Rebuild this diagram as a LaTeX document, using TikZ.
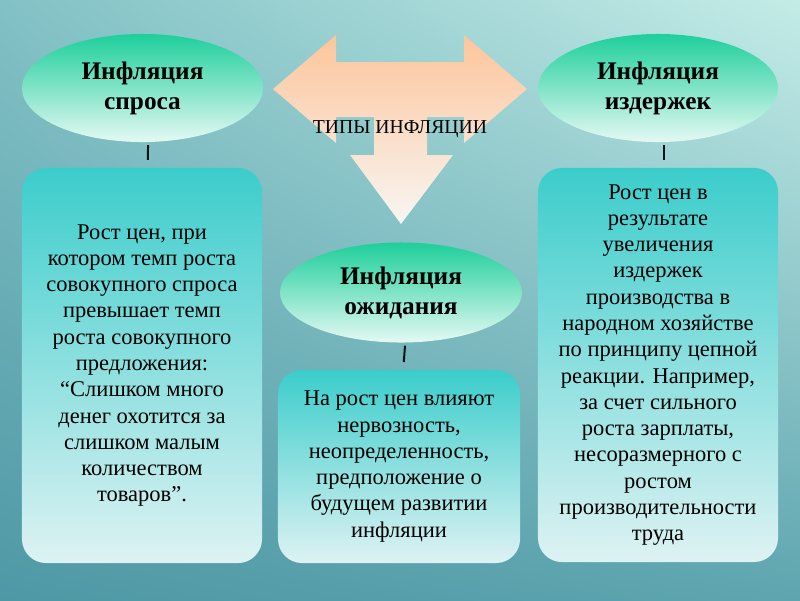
\documentclass[tikz,border=0pt]{standalone}
\usepackage{fontspec}
\setmainfont{Liberation Serif}
\usepackage{tikz}
\usetikzlibrary{shapes.geometric,shadings}
\usepackage{xcolor}

\definecolor{fundoTL}{HTML}{82C1C5}
\definecolor{fundoTR}{HTML}{C4ECE7}
\definecolor{fundoBL}{HTML}{4E98A5}
\definecolor{fundoBR}{HTML}{5EA5AF}
\definecolor{elipseA}{HTML}{1ECF9B}
\definecolor{elipseB}{HTML}{E4F9F3}
\definecolor{caixaA}{HTML}{3BCDCB}
\definecolor{caixaB}{HTML}{DEF2F3}
\definecolor{setaA}{HTML}{FDC59B}
\definecolor{setaB}{HTML}{F7F6F2}

\begin{document}
\begin{tikzpicture}[x=0.025cm, y=-0.025cm,
  titulo/.style={ellipse, inner sep=0pt, top color=elipseA, bottom color=elipseB,
    align=center, font=\fontsize{18}{21.3}\selectfont\bfseries},
  caixa/.style={rectangle, rounded corners=0.6cm, inner sep=0pt, top color=caixaA,
    bottom color=caixaB, minimum width=6cm, align=center,
    font=\fontsize{16}{18.7}\selectfont},
  ligacao/.style={line width=1.4pt, draw=black!85!teal, shorten <=2pt, shorten >=5.5pt}]

% fundo
\useasboundingbox (0,0) rectangle (800,600);
\shade[upper left=fundoTL, upper right=fundoTR, lower left=fundoBL, lower right=fundoBR]
  (0,0) rectangle (800,600);

% seta tripla
\shade[top color=setaA, bottom color=setaB]
  (273,89) -- (336,35) -- (336,62) -- (464,62) -- (464,35) -- (527,89) --
  (464,143) -- (464,117) -- (427,117) -- (427,155) -- (453,155) -- (401,224) --
  (350,155) -- (374,155) -- (374,117) -- (336,117) -- (336,143) -- cycle;
\node[font=\fontsize{14}{16}\selectfont] (tipos) at (400,129.5) {ТИПЫ ИНФЛЯЦИИ};

% elipses
\node[titulo, minimum width=6.025cm, minimum height=2.7cm] (spros) at (142.5,88)
  {Инфляция\\спроса};
\node[titulo, minimum width=6cm, minimum height=2.7cm] (izd) at (658,88)
  {Инфляция\\издержек};
\node[titulo, minimum width=6.05cm, minimum height=2.5cm] (ozh) at (401,292.5)
  {Инфляция\\ожидания};

% caixas de texto
\node[caixa, minimum height=9.875cm] (tspros) at (142,365.5)
  {Рост цен, при\\котором темп роста\\совокупного спроса\\превышает темп\\роста совокупного\\предложения:\\“Слишком много\\денег охотится за\\слишком малым\\количеством\\товаров”.};
\node[caixa, minimum height=9.85cm] (tizd) at (658,365)
  {Рост цен в\\результате\\увеличения\\издержек\\производства в\\народном хозяйстве\\по принципу цепной\\реакции. Например,\\за счет сильного\\роста зарплаты,\\несоразмерного с\\ростом\\производительности\\труда};
\node[caixa, minimum width=6.05cm, minimum height=4.825cm] (tozh) at (399,466.5)
  {На рост цен влияют\\нервозность,\\неопределенность,\\предположение о\\будущем развитии\\инфляции};

% ligacoes
\draw[ligacao] ([xshift=4pt]spros.south) -- ([xshift=4pt]tspros.north);
\draw[ligacao] ([xshift=4pt]izd.south) -- ([xshift=4pt]tizd.north);
\draw[ligacao] ([xshift=3pt]ozh.south) -- ([xshift=3pt]tozh.north);

\end{tikzpicture}
\end{document}
